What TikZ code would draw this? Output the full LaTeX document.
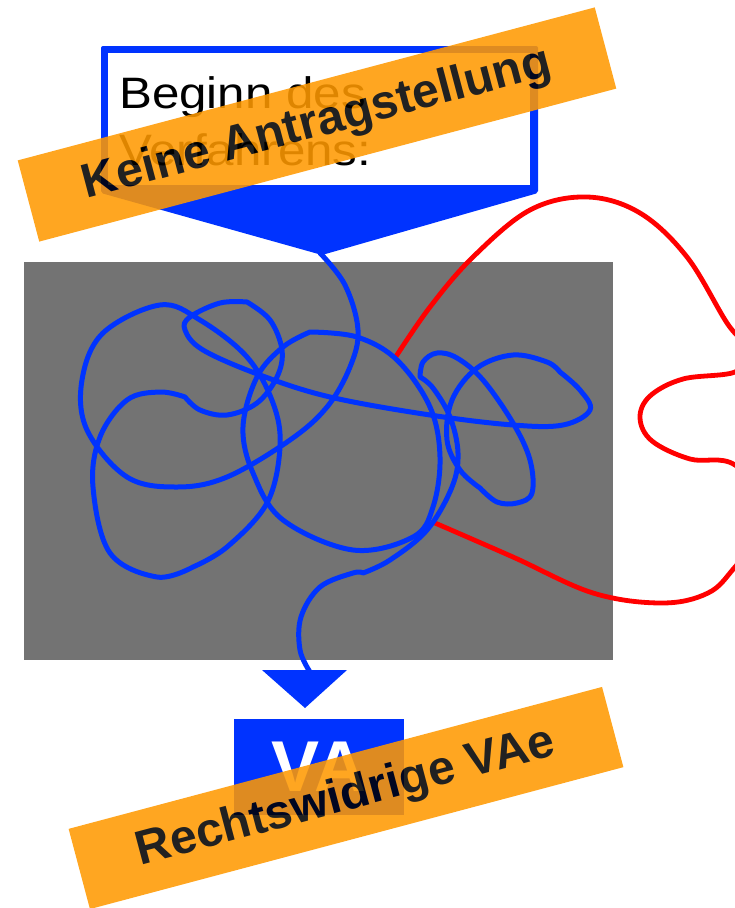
\documentclass[tikz,border=0pt]{standalone}
\usepackage{fontspec}
\setmainfont{Liberation Sans}
\newfontfamily\widesans[FakeStretch=1.12]{Liberation Sans}
\definecolor{vblue}{HTML}{0033FF}
\definecolor{vred}{HTML}{FF0000}
\definecolor{vgray}{HTML}{737373}
\definecolor{vorange}{HTML}{FF9900}
\begin{document}
\begin{tikzpicture}[x=1pt,y=-1pt, line join=round, line cap=round,
  scribble/.style={draw=vblue, line width=5pt},
  redline/.style={draw=vred, line width=4.8pt},
  band/.style={fill=vorange, text=black, inner sep=0pt, font=\bfseries},
  titletext/.style={anchor=base west, inner sep=0pt, font=\widesans\fontsize{44}{56}\selectfont}]
\useasboundingbox (0,0) rectangle (735,908);
\clip (0,0) rectangle (735,908);

% start box with downward pentagon
\fill[vblue, rounded corners=2pt] (101,46) -- (538,46) -- (538,193) -- (322,255) -- (101,193) -- cycle;
\fill[white] (108,53) rectangle (530,185);
\coordinate (starttip) at (320,253);
\node[titletext] (title1) at (119,108) {Beginn des};
\node[titletext] (title2) at (119,165) {Verfahrens:};

% gray field
\fill[vgray] (24,262) rectangle (613,660);

% red path
\draw[redline] plot[smooth, tension=0.6] coordinates {
 (395,358) (430,307) (473,257) (530,210) (587,197) (640,213) (687,257) (727,323)
 (750,352) (735,372) (683,379) (650,396) (640,418) (652,441) (690,459) (735,465)
 (775,515) (735,567) (708,593) (662,603) (593,593) (513,557) (435,523)};

% blue scribble
\draw[scribble] plot[smooth, tension=0.6] coordinates {
 (starttip) (345,285) (358,330) (350,367) (327,407) (290,440) (227,477) (177,487) (127,477)
 (87,430) (82,380) (103,333) (160,305) (200,320) (247,357) (273,403) (280,447) (267,503)
 (227,547) (193,567)}
 -- plot[smooth, tension=0.6] coordinates {(193,567) (157,577) (110,553) (93,487) (100,437) (127,400) (160,392) (185,397)}
 -- plot[smooth, tension=0.6] coordinates {(185,397) (200,410) (227,415) (257,403) (277,377) (282,350) (270,320) (247,302)}
 -- plot[smooth, tension=0.6] coordinates {(247,302) (220,303) (190,317) (185,330) (203,350) (260,375) (330,397) (430,415)
    (513,425) (563,425) (590,410) (580,390) (560,372)}
 -- plot[smooth, tension=0.6] coordinates {(560,372) (547,362) (513,355) (477,368) (452,400) (447,440) (460,470) (480,488)}
 -- plot[smooth, tension=0.6] coordinates {(480,488) (497,502) (517,503) (532,493) (530,460) (513,423) (483,380) (457,358)
    (437,353) (423,362) (420,377)}
 -- plot[smooth, tension=0.6] coordinates {(420,377) (433,388) (450,417) (458,453) (452,487) (427,530) (390,560) (363,573)}
 -- plot[smooth, tension=0.6] coordinates {(363,573) (353,573) (320,587) (301,617) (300,650) (310,672)};
\draw[scribble] plot[smooth, tension=0.6] coordinates {
 (310,332) (283,347) (257,377) (243,427) (253,473) (283,520) (353,550) (413,537) (433,507)
 (440,457) (430,407) (397,360) (357,337) (310,332)};

% arrow head and VA box
\fill[vblue] (262,670) -- (347,670) -- (305,708) -- cycle;
\node[fill=vblue, text=white, minimum width=170pt, minimum height=96pt, inner sep=0pt,
      font=\fontsize{72}{72}\selectfont\bfseries] (va) at (319,767) {VA};

% stamps
\begin{scope}[transparency group, opacity=0.87]
\node[band, rotate=14.85, minimum width=597pt, minimum height=84pt,
      font=\fontsize{48}{48}\selectfont\bfseries] (stamp1) at (317,124.5) {Keine Antragstellung};
\end{scope}
\begin{scope}[transparency group, opacity=0.87]
\node[band, rotate=14.9, minimum width=552pt, minimum height=83pt,
      font=\fontsize{48}{48}\selectfont\bfseries] (stamp2) at (346,798) {Rechtswidrige VAe};
\end{scope}
\end{tikzpicture}
\end{document}
